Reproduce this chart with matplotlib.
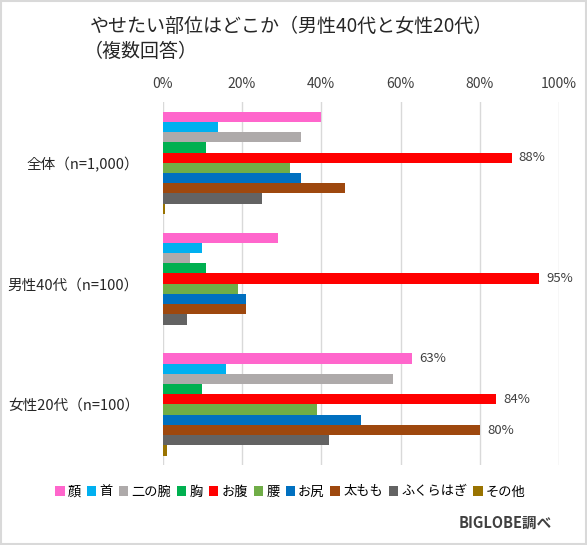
import numpy as np
import matplotlib.pyplot as plt
from matplotlib.patches import Rectangle

plt.rcParams['font.family'] = ['Noto Sans CJK JP', 'DejaVu Sans']

# data (percent)
groups = ['全体（n=1,000）', '男性40代（n=100）', '女性20代（n=100）']
parts = ['顔', '首', '二の腕', '胸', 'お腹', '腰', 'お尻', '太もも', 'ふくらはぎ', 'その他']
zentai = [40, 14, 35, 11, 88, 32, 35, 46, 25, 0.6]
male40 = [29, 10, 7, 11, 95, 19, 21, 21, 6, 0]
female20 = [63, 16, 58, 10, 84, 39, 50, 80, 42, 1]
colors = ['#FF66CC', '#00B0F0', '#AEAAAA', '#00B050', '#FF0000',
          '#70AD47', '#0070C0', '#9E480E', '#636363', '#997300']
# which bars get a value label
labeled = {(0, 4), (1, 4), (2, 0), (2, 4), (2, 7)}

values = np.array([zentai, male40, female20])

fig = plt.figure(figsize=(5.87, 5.45), dpi=100)
ax = fig.add_axes([0.2772, 0.147, 0.6754, 0.665])

n = len(parts)
bh = 0.0845
y = np.arange(len(groups))
for i in range(n):
    pos = y + (i - (n - 1) / 2) * bh
    ax.barh(pos, values[:, i], height=bh, color=colors[i], label=parts[i], zorder=2)
    for g in range(len(groups)):
        if (g, i) in labeled:
            ax.text(values[g, i] + 1.8, pos[g], f'{values[g, i]:.0f}%', va='center',
                    ha='left', fontsize=9.5, color='#404040')

ax.set_xlim(0, 100)
ax.set_ylim(len(groups) - 0.5, -0.5)
ax.set_xticks(np.arange(0, 101, 20))
ax.set_xticklabels([f'{t}%' for t in range(0, 101, 20)])
ax.xaxis.tick_top()
ax.tick_params(axis='x', length=0, pad=8, labelsize=10, labelcolor='#404040')
ax.set_yticks(y)
ax.set_yticklabels(groups)
ax.tick_params(axis='y', length=0, pad=17, labelsize=10.5, labelcolor='#262626')
ax.grid(axis='x', color='#d9d9d9', linewidth=1, zorder=0)
for s in ax.spines.values():
    s.set_visible(False)

fig.text(90 / 587, 1 - 26 / 545, 'やせたい部位はどこか（男性40代と女性20代）',
         fontsize=13.7, ha='left', va='center', color='#262626')
fig.text(84 / 587, 1 - 51 / 545, '（複数回答）',
         fontsize=13.7, ha='left', va='center', color='#262626')

fig.legend(loc='center', bbox_to_anchor=(0.495, 1 - 492 / 545), ncol=10, frameon=False,
           fontsize=9.5, handlelength=0.7, handleheight=0.7, handletextpad=0.25,
           columnspacing=0.45, borderaxespad=0)

fig.text(552 / 587, 1 - 523 / 545, 'BIGLOBE調べ', fontsize=10.5, fontweight='bold',
         ha='right', va='center', color='#404040')

fig.patches.append(Rectangle((0.001, 0.001), 0.997, 0.997, transform=fig.transFigure,
                             fill=False, edgecolor='#d9d9d9', linewidth=1.5))

fig.savefig('out.png', dpi=100)
